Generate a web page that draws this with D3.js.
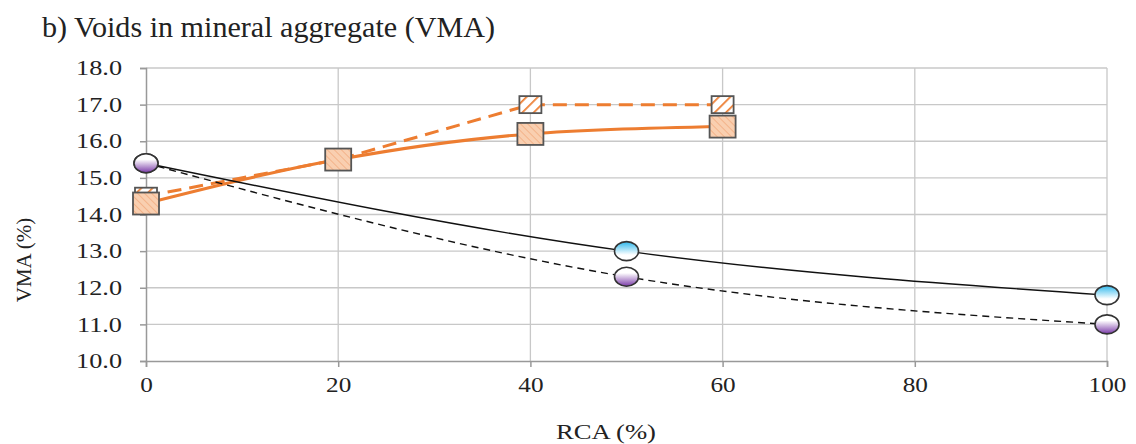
<!DOCTYPE html>
<html><head><meta charset="utf-8">
<script src="https://cdn.jsdelivr.net/npm/d3@7"></script>
<style>body{margin:0;background:#fff}svg{display:block}text{font-family:"Liberation Serif","Times New Roman",serif;fill:#222}</style>
</head><body><svg id="c" width="1136" height="444"></svg>
<script>
const xTicks = [0, 20, 40, 60, 80, 100];
const yTicks = [10, 11, 12, 13, 14, 15, 16, 17, 18];
const rcaSquares = [0, 20, 40, 60];
const orangeSolid = [14.3, 15.5, 16.2, 16.4];
const orangeDashed = [14.5, 15.5, 17.0, 17.0];
const rcaCircles = [0, 50, 100];
const blackSolid = [15.4, 13.0, 11.8];
const blackDashed = [15.4, 12.3, 11.0];

const svg = d3.select("#c");
const m = {l:146, r:1107, t:68, b:361};
const x = d3.scaleLinear().domain([0,100]).range([m.l, m.r]);
const y = d3.scaleLinear().domain([10,18]).range([m.b, m.t]);

const defs = svg.append("defs");
const gb = defs.append("linearGradient").attr("id","gBlue").attr("x1",0).attr("y1",0).attr("x2",0).attr("y2",1);
gb.append("stop").attr("offset","0%").attr("stop-color","#2fb8ec");
gb.append("stop").attr("offset","70%").attr("stop-color","#ffffff");
const gp = defs.append("linearGradient").attr("id","gPurple").attr("x1",0).attr("y1",0).attr("x2",0).attr("y2",1);
gp.append("stop").attr("offset","30%").attr("stop-color","#ffffff");
gp.append("stop").attr("offset","100%").attr("stop-color","#7a3aa8");
const p1 = defs.append("pattern").attr("id","hFine").attr("patternUnits","userSpaceOnUse").attr("width",5).attr("height",5).attr("patternTransform","rotate(-45)");
p1.append("rect").attr("width",5).attr("height",5).attr("fill","#f9cfb0");
p1.append("line").attr("x1",0).attr("y1",0).attr("x2",0).attr("y2",5).attr("stroke","#f0a070").attr("stroke-width",1.2);
const p2 = defs.append("pattern").attr("id","hWide").attr("patternUnits","userSpaceOnUse").attr("width",8).attr("height",8).attr("patternTransform","rotate(45)");
p2.append("rect").attr("width",8).attr("height",8).attr("fill","#fff");
p2.append("line").attr("x1",0).attr("y1",0).attr("x2",0).attr("y2",8).attr("stroke","#ed7d31").attr("stroke-width",3.5);

// grid
svg.append("g").selectAll("line").data(yTicks.slice(1)).join("line")
  .attr("x1",m.l).attr("x2",m.r).attr("y1",d=>y(d)).attr("y2",d=>y(d)).attr("stroke","#c8c8c8").attr("stroke-width",1.3);
svg.append("g").selectAll("line").data(xTicks.slice(1)).join("line")
  .attr("y1",m.t).attr("y2",m.b).attr("x1",d=>x(d)).attr("x2",d=>x(d)).attr("stroke","#c8c8c8").attr("stroke-width",1.3);

function stretch(sel, f){ sel.each(function(){ const w=this.getComputedTextLength(); d3.select(this).attr("textLength", w*f).attr("lengthAdjust","spacingAndGlyphs"); }); }

// axes
const ya = svg.append("g").attr("transform",`translate(${m.l},0)`).call(d3.axisLeft(y).tickValues(yTicks).tickFormat(d3.format(".1f")).tickSize(6).tickPadding(18));
const xa = svg.append("g").attr("transform",`translate(0,${m.b})`).call(d3.axisBottom(x).tickValues(xTicks).tickSize(6).tickPadding(10));
[ya,xa].forEach(a=>{a.select(".domain").attr("stroke","#999").attr("stroke-width",1.5);a.selectAll(".tick line").attr("stroke","#999").attr("stroke-width",1.5);a.selectAll("text").style("font-size","21px").attr("fill","#222");});
stretch(ya.selectAll("text"), 1.25);
stretch(xa.selectAll("text"), 1.2);

// titles
svg.append("text").attr("x",42).attr("y",37).style("font-size","30px").attr("textLength",453).attr("lengthAdjust","spacingAndGlyphs").text("b) Voids in mineral aggregate (VMA)");
svg.append("text").attr("transform","translate(31,260) rotate(-90)").attr("text-anchor","middle").style("font-size","21px").text("VMA (%)");
const xl = svg.append("text").attr("x",606).attr("y",439).attr("text-anchor","middle").style("font-size","21px").text("RCA (%)");
stretch(xl, 1.27);

const smooth = d3.line().curve(d3.curveMonotoneX).x(d=>x(d[0])).y(d=>y(d[1]));
const straight = d3.line().x(d=>x(d[0])).y(d=>y(d[1]));
const zip = (a,b)=>a.map((v,i)=>[v,b[i]]);

function drawSeries(xs, ys, stroke, w, dash, marker, gen){
  const data = zip(xs, ys);
  const g = svg.append("g");
  g.append("path").datum(data).attr("d",gen).attr("fill","none").attr("stroke",stroke).attr("stroke-width",w).attr("stroke-dasharray",dash);
  marker(g.selectAll(null).data(data).join(marker.tag));
}
function sq(fill, w, h){ const f = s=>s.attr("x",d=>x(d[0])-w/2).attr("y",d=>y(d[1])-h/2).attr("width",w).attr("height",h).attr("fill",fill).attr("stroke","#555").attr("stroke-width",1.8); f.tag="rect"; return f; }
function circ(fill){ const f = s=>s.attr("cx",d=>x(d[0])).attr("cy",d=>y(d[1])).attr("rx",12).attr("ry",9.5).attr("fill",fill).attr("stroke","#333").attr("stroke-width",1.6); f.tag="ellipse"; return f; }

drawSeries(rcaSquares, orangeDashed, "#ed7d31", 3, "14,8", sq("url(#hWide)", 22, 17), straight);
drawSeries(rcaSquares, orangeSolid, "#ed7d31", 3, null, sq("url(#hFine)", 26, 22), smooth);
drawSeries(rcaCircles, blackSolid, "#111", 1.4, null, circ("url(#gBlue)"), smooth);
drawSeries(rcaCircles, blackDashed, "#111", 1.4, "7,5", circ("url(#gPurple)"), smooth);
</script></body></html>
